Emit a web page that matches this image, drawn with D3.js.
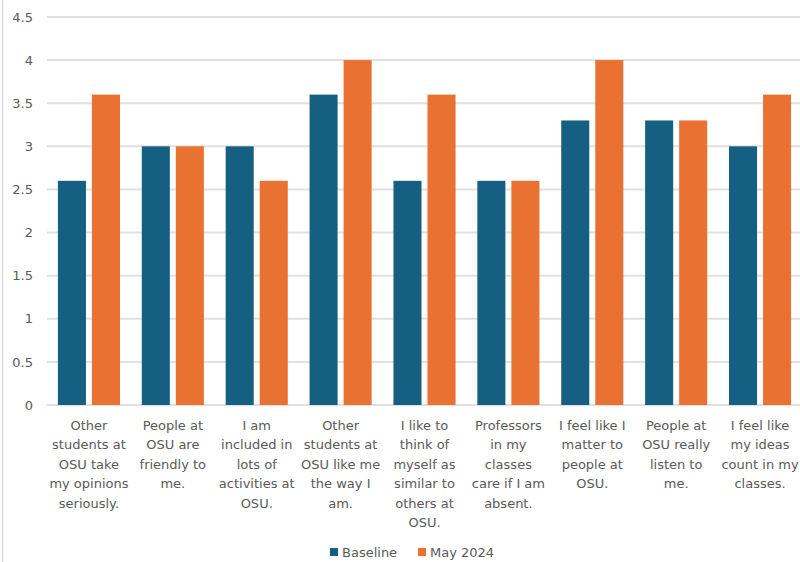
<!DOCTYPE html>
<html>
<head>
<meta charset="utf-8">
<script src="https://cdn.jsdelivr.net/npm/d3@7"></script>
<style>
  body { margin: 0; background: #fff; }
  svg { display: block; font-family: "DejaVu Sans", sans-serif; }
</style>
</head>
<body>
<div id="chart"></div>
<script>
// category labels, already wrapped the way the original shows them
var categories = [
  ["Other", "students at", "OSU take", "my opinions", "seriously."],
  ["People at", "OSU are", "friendly to", "me."],
  ["I am", "included in", "lots of", "activities at", "OSU."],
  ["Other", "students at", "OSU like me", "the way I", "am."],
  ["I like to", "think of", "myself as", "similar to", "others at", "OSU."],
  ["Professors", "in my", "classes", "care if I am", "absent."],
  ["I feel like I", "matter to", "people at", "OSU."],
  ["People at", "OSU really", "listen to", "me."],
  ["I feel like", "my ideas", "count in my", "classes."]
];
var baseline = [2.6, 3.0, 3.0, 3.6, 2.6, 2.6, 3.3, 3.3, 3.0];
var may2024  = [3.6, 3.0, 2.6, 4.0, 3.6, 2.6, 4.0, 3.3, 3.6];
var seriesNames = ["Baseline", "May 2024"];
var yTicks = [0, 0.5, 1, 1.5, 2, 2.5, 3, 3.5, 4, 4.5];

var width = 800, height = 562;
var colors = ["#156082", "#e97132"];

var svg = d3.select("#chart").append("svg")
  .attr("width", width)
  .attr("height", height);

// thin frame line on the left edge
svg.append("line")
  .attr("x1", 2.5).attr("x2", 2.5)
  .attr("y1", 0).attr("y2", height)
  .attr("stroke", "#d9d9d9").attr("stroke-width", 1.5);

var x = d3.scaleBand()
  .domain(d3.range(categories.length))
  .range([47, 802]);

var x1 = d3.scaleBand()
  .domain([0, 1])
  .range([0, x.bandwidth()])
  .paddingInner(0.176)
  .paddingOuter(0.32);

var y = d3.scaleLinear()
  .domain([0, 4.5])
  .range([405, 17]);

// gridlines
svg.append("g").selectAll("line")
  .data(yTicks)
  .join("line")
  .attr("x1", 47).attr("x2", 802)
  .attr("y1", d => y(d)).attr("y2", d => y(d))
  .attr("stroke", "#e0e0e0")
  .attr("stroke-width", 2);

// y labels
var yAxis = svg.append("g")
  .attr("transform", "translate(33,0)")
  .call(d3.axisLeft(y).tickValues(yTicks).tickSize(0).tickPadding(0)
    .tickFormat(d => String(d)));
yAxis.select(".domain").remove();
yAxis.selectAll("text")
  .attr("fill", "#595959")
  .style("font-size", "13px")
  .style("font-family", "DejaVu Sans, sans-serif");

// bars
var groups = svg.append("g").selectAll("g")
  .data(categories.map((c, i) => [baseline[i], may2024[i]]))
  .join("g")
  .attr("transform", (d, i) => "translate(" + x(i) + ",0)");

groups.selectAll("rect")
  .data(d => d)
  .join("rect")
  .attr("x", (d, j) => x1(j))
  .attr("width", x1.bandwidth())
  .attr("y", d => y(d))
  .attr("height", d => y(0) - y(d))
  .attr("fill", (d, j) => colors[j]);

// category labels
var labels = svg.append("g").selectAll("text")
  .data(categories)
  .join("text")
  .attr("text-anchor", "middle")
  .attr("fill", "#595959")
  .style("font-size", "13px")
  .attr("x", (d, i) => x(i) + x.bandwidth() / 2)
  .attr("y", 430);

labels.selectAll("tspan")
  .data(d => d)
  .join("tspan")
  .attr("x", function() { return this.parentNode.getAttribute("x"); })
  .attr("dy", (d, k) => k === 0 ? 0 : 19.4)
  .text(d => d);

// legend
var legend = svg.append("g").attr("transform", "translate(330,552)");
var legendX = [0, 88];
seriesNames.forEach(function(name, i) {
  legend.append("rect")
    .attr("x", legendX[i]).attr("y", -4)
    .attr("width", 8).attr("height", 8)
    .attr("fill", colors[i]);
  legend.append("text")
    .attr("x", legendX[i] + 12).attr("y", 0)
    .attr("dy", "0.35em")
    .attr("fill", "#595959")
    .style("font-size", "13px")
    .text(name);
});
</script>
</body>
</html>
